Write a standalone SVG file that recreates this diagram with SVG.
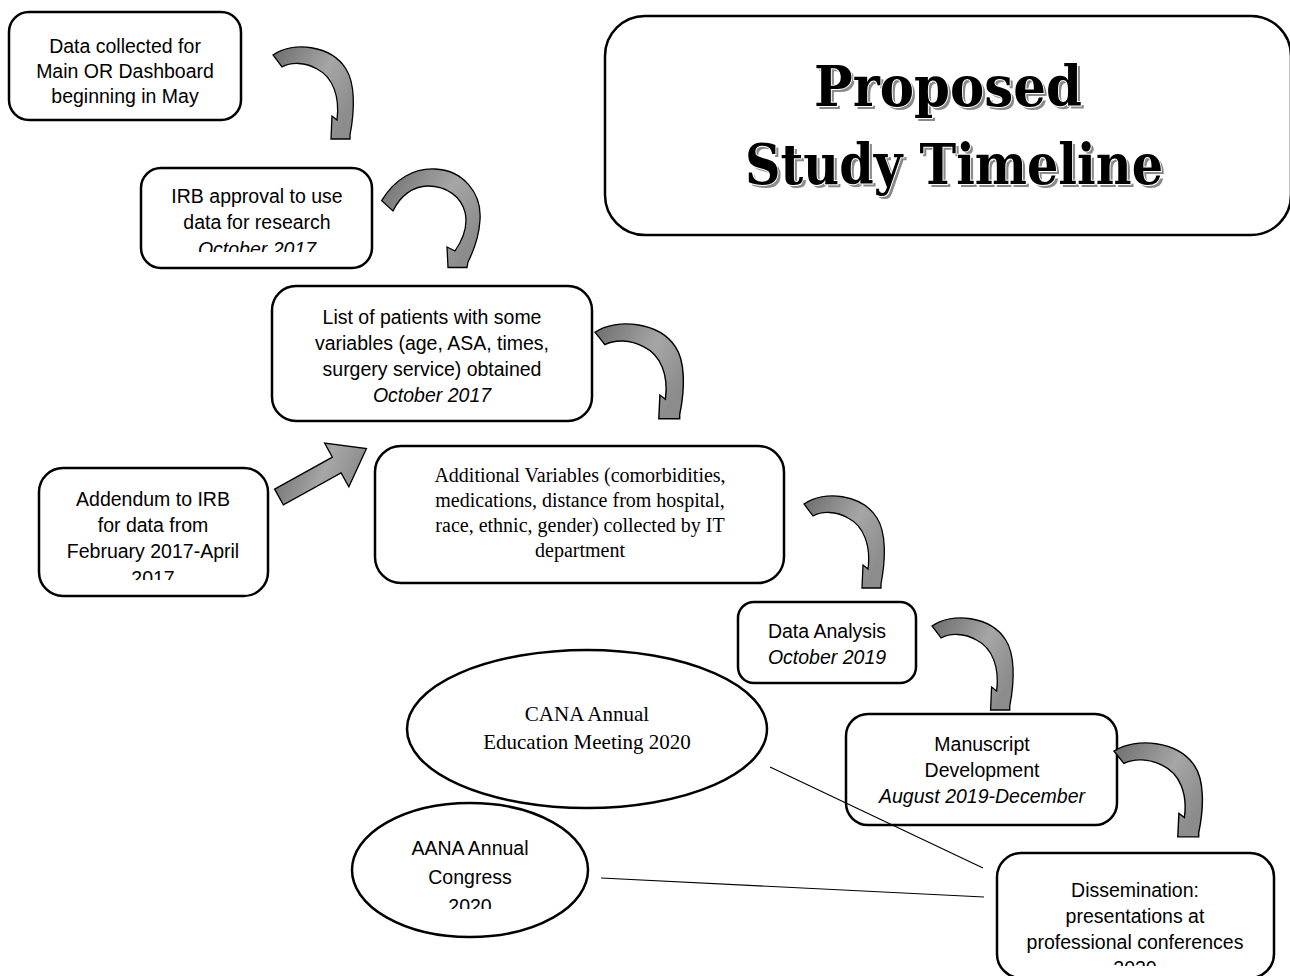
<svg xmlns="http://www.w3.org/2000/svg" width="1290" height="976" viewBox="0 0 1290 976">
<style>
.box{fill:#fff;stroke:#000;stroke-width:2.5}
.t{font-family:"Liberation Sans",Arial,sans-serif;font-size:19.5px;text-anchor:middle;fill:#000}
.i{font-style:italic}
.s{font-family:"Liberation Serif","Times New Roman",serif;font-size:20px;text-anchor:middle;fill:#000}
.arr{fill:url(#ag);stroke:#000;stroke-width:1.3;stroke-linejoin:miter}
.conn{stroke:#000;stroke-width:1.2;fill:none}
.title{font-family:"DejaVu Serif","Liberation Serif",serif;font-weight:bold;font-size:56px;text-anchor:middle}
</style>
<defs>
<linearGradient id="ag" x1="0" y1="0" x2="1" y2="0.6">
<stop offset="0" stop-color="#6c6c6c"/>
<stop offset="0.6" stop-color="#a6a6a6"/>
<stop offset="1" stop-color="#8c8c8c"/>
</linearGradient>
<path id="carrow" d="M0,8 C20,-6 58,-2 73,22 C82,36 82,62 77,88 L77,92 L58,92 L59,69 L64,73 C67,50 60,30 44,22 C32,15 18,15 9,20 Z"/>
<clipPath id="cIRB"><rect x="141" y="168" width="231" height="84"/></clipPath>
<clipPath id="cAdd"><rect x="39" y="468" width="229" height="112"/></clipPath>
<clipPath id="cAANA"><rect x="353" y="803" width="235" height="106"/></clipPath>
<clipPath id="cDis"><rect x="997" y="853" width="277" height="113"/></clipPath>
</defs>
<rect width="1290" height="976" fill="#fff"/>

<g id="title">
<rect class="box" x="605" y="16" width="686" height="219" rx="40"/>
<g class="title" fill="#8a8a8a" transform="translate(3,3)">
<text x="948" y="106" textLength="268" lengthAdjust="spacingAndGlyphs">Proposed</text>
<text x="954" y="184" textLength="418" lengthAdjust="spacingAndGlyphs">Study Timeline</text>
</g>
<g class="title" fill="#000" stroke="#fff" stroke-width="2" paint-order="stroke">
<text x="948" y="106" textLength="268" lengthAdjust="spacingAndGlyphs">Proposed</text>
<text x="954" y="184" textLength="418" lengthAdjust="spacingAndGlyphs">Study Timeline</text>
</g>
</g>

<g id="n1">
<rect class="box" x="9" y="12" width="232" height="108" rx="20"/>
<text class="t" x="125" y="53">Data collected for</text>
<text class="t" x="125" y="78">Main OR Dashboard</text>
<text class="t" x="125" y="103">beginning in May</text>
</g>

<g id="n2">
<rect class="box" x="141" y="168" width="231" height="100" rx="20"/>
<g clip-path="url(#cIRB)">
<text class="t" x="257" y="203">IRB approval to use</text>
<text class="t" x="257" y="229">data for research</text>
<text class="t i" x="257" y="256">October 2017</text>
</g>
</g>

<g id="n3">
<rect class="box" x="272" y="286" width="320" height="135" rx="24"/>
<text class="t" x="432" y="324">List of patients with some</text>
<text class="t" x="432" y="350">variables (age, ASA, times,</text>
<text class="t" x="432" y="376">surgery service) obtained</text>
<text class="t i" x="432" y="402">October 2017</text>
</g>

<g id="n4">
<rect class="box" x="39" y="468" width="229" height="128" rx="24"/>
<g clip-path="url(#cAdd)">
<text class="t" x="153" y="506">Addendum to IRB</text>
<text class="t" x="153" y="532">for data from</text>
<text class="t" x="153" y="558">February 2017-April</text>
<text class="t" x="153" y="585">2017</text>
</g>
</g>

<g id="n5">
<rect class="box" x="375" y="446" width="409" height="137" rx="26"/>
<text class="s" x="580" y="482">Additional Variables (comorbidities,</text>
<text class="s" x="580" y="507">medications, distance from hospital,</text>
<text class="s" x="580" y="532">race, ethnic, gender) collected by IT</text>
<text class="s" x="580" y="557">department</text>
</g>

<g id="n6">
<rect class="box" x="738" y="602" width="178" height="81" rx="16"/>
<text class="t" x="827" y="638">Data Analysis</text>
<text class="t i" x="827" y="664">October 2019</text>
</g>

<g id="n7">
<rect class="box" x="846" y="714" width="271" height="111" rx="22"/>
<text class="t" x="982" y="751">Manuscript</text>
<text class="t" x="982" y="777">Development</text>
<text class="t i" x="982" y="803">August 2019-December</text>
</g>

<g id="n8">
<rect class="box" x="997" y="853" width="277" height="125" rx="24"/>
<g clip-path="url(#cDis)">
<text class="t" x="1135" y="897">Dissemination:</text>
<text class="t" x="1135" y="923">presentations at</text>
<text class="t" x="1135" y="949">professional conferences</text>
<text class="t" x="1135" y="975">2020</text>
</g>
</g>

<g id="n9">
<ellipse class="box" cx="587" cy="729" rx="180" ry="79"/>
<text class="s" x="587" y="721" style="font-size:21px">CANA Annual</text>
<text class="s" x="587" y="749" style="font-size:21px">Education Meeting 2020</text>
</g>

<g id="n10">
<ellipse class="box" cx="470" cy="870" rx="118" ry="67"/>
<g clip-path="url(#cAANA)">
<text class="t" x="470" y="855">AANA Annual</text>
<text class="t" x="470" y="884">Congress</text>
<text class="t" x="470" y="913">2020</text>
</g>
</g>

<g id="connectors">
<use href="#carrow" class="arr" transform="translate(273,47)"/>
<path class="arr" d="M381.7,200.7 C395,178 415,168 435,169 C462,170 482,192 480,220 C479,238 474,250 468,262 L467,267.5 L448,267.5 L447,247 L455,251 C464,238 468,225 465,212 C461,197 447,186 428,186 C413,186 400,196 393,211 Z"/>
<use href="#carrow" class="arr" transform="translate(595,324) scale(1.1,1.03)"/>
<use href="#carrow" class="arr" transform="translate(804,496)"/>
<use href="#carrow" class="arr" transform="translate(932,618) scale(1.01,1)"/>
<use href="#carrow" class="arr" transform="translate(1114,743) scale(1.1,1.02)"/>
<polygon class="arr" points="0,-9 66,-9 66,-25 100,0 66,25 66,9 0,9" transform="translate(279,497) rotate(-29)"/>
<line class="conn" x1="770" y1="767" x2="983" y2="868"/>
<line class="conn" x1="601" y1="878" x2="984" y2="897"/>
</g>
</svg>
